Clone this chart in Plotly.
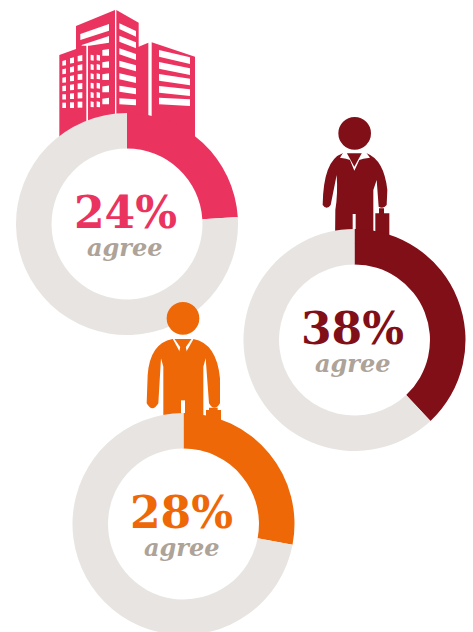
import plotly.graph_objects as go

W, H = 473, 640

labels = ["agree", "other"]
agree_values = [24, 38, 28]
rest_values = [76, 62, 72]
pct_labels = ["24%", "38%", "28%"]
sub_label = "agree"
colors = ["#EB3360", "#810F18", "#EE6808"]
GREY = "#E8E4E1"
SUB = "#ADA398"
cx = [127, 354.5, 183.5]
cy = [224, 340, 524]
R = 111


def pt(x, y):
    return f"{x / W:.5f} {1 - y / H:.5f}"


def z(ox, oy, pts):
    s = []
    for i, (x, y) in enumerate(pts):
        s.append(("M" if i == 0 else "L") + pt(ox + x / 3, oy + y / 3))
    return " ".join(s) + " Z"


def zcurve(ox, oy, cmds):
    out = []
    for c in cmds:
        op, nums = c[0], c[1:]
        coords = [pt(ox + nums[i] / 3, oy + nums[i + 1] / 3) for i in range(0, len(nums), 2)]
        out.append(op + " ".join(coords))
    return " ".join(out) + " Z"


shapes = []


def add(path, color):
    shapes.append(dict(type="path", xref="paper", yref="paper", path=path,
                       fillcolor=color, line=dict(width=0), layer="below"))


# --- building
BX, BY = 40, 0
b = colors[0]
add(z(BX, BY, [(58, 165), (108, 147), (108, 78), (225, 30), (225, 370), (144, 370), (144, 134), (139, 134),
               (139, 420), (58, 420)]), b)
add(z(BX, BY, [(229, 30), (296, 68), (296, 140), (325, 128), (325, 370), (229, 370)]), b)
add(z(BX, BY, [(335, 127), (465, 170), (465, 420), (335, 420)]), b)
w = "#FFFFFF"
add(z(BX, BY, [(121, 102), (207, 72), (207, 92), (121, 120)]), w)
add(z(BX, BY, [(125, 135), (207, 108), (207, 128), (148, 137), (125, 137)]), w)
for (y1, y2, h) in [(70, 93, 17), (107, 127, 18), (145, 162, 18), (182, 196, 18), (220, 231, 18), (257, 265, 18), (295, 298, 18)]:
    add(z(BX, BY, [(238, y1), (288, y2), (288, y2 + h), (238, y1 + h)]), w)
for (y1, y2, h) in [(150, 172, 20), (186, 205, 20), (222, 236, 20), (258, 268, 20), (293, 298, 20)]:
    add(z(BX, BY, [(357, y1), (450, y2), (450, y2 + h), (357, y1 + h)]), w)
for (x1, x2, base, step, hh) in [(67, 78, 180, 25.6, 16), (90, 102, 172, 27, 17), (113, 127, 165, 28, 18)]:
    for row in range(6):
        y = base + row * step
        t = 3 * (1 - row / 5)
        add(z(BX, BY, [(x1, y + t), (x2, y), (x2, y + hh), (x1, y + hh + t * 0.5)]), w)
for (x1, x2) in [(152, 161), (170, 180)]:
    for row in range(6):
        y = 164 + row * 28
        add(z(BX, BY, [(x1, y), (x2, y + 2), (x2, y + 18), (x1, y + 17)]), w)
for row in range(5):
    y = 147 + row * 36.5
    add(z(BX, BY, [(187, y + 3), (207, y), (207, y + 20), (187, y + 20)]), w)

# --- woman
WX, WY = 310, 110
c = colors[1]
shapes.append(dict(type="circle", xref="paper", yref="paper", layer="below", fillcolor=c, line=dict(width=0),
                   x0=(WX + 85 / 3) / W, x1=(WX + 183 / 3) / W,
                   y0=1 - (WY + 119 / 3) / H, y1=1 - (WY + 21 / 3) / H))
add(zcurve(WX, WY, [
    ("M", 98, 130), ("L", 170, 130),
    ("Q", 222, 150, 232, 240), ("L", 230, 285), ("Q", 220, 298, 206, 290),
    ("L", 200, 210), ("L", 190, 240), ("L", 190, 400), ("L", 75, 400), ("L", 76, 300),
    ("Q", 84, 250, 80, 195), ("L", 62, 285), ("Q", 50, 302, 38, 285),
    ("Q", 40, 150, 98, 130),
]), c)
add(z(WX, WY, [(128, 312), (137, 312), (137, 400), (128, 400)]), w)
add(z(WX, WY, [(90, 143), (100, 127), (110, 128), (133, 170), (156, 128), (168, 127), (180, 143), (160, 146),
               (148, 150), (133, 182), (120, 150), (108, 146)]), w)
add(z(WX, WY, [(196, 310), (207, 310), (207, 295), (222, 295), (222, 310), (238, 310), (238, 400), (196, 400)]), c)

# --- man
MX, MY = 135, 295
c = colors[2]
shapes.append(dict(type="circle", xref="paper", yref="paper", layer="above", fillcolor=c, line=dict(width=0),
                   x0=(MX + 95 / 3) / W, x1=(MX + 193 / 3) / W,
                   y0=1 - (MY + 119 / 3) / H, y1=1 - (MY + 21 / 3) / H))
add(zcurve(MX, MY, [
    ("M", 112, 132), ("L", 175, 132),
    ("Q", 245, 145, 255, 250), ("L", 255, 325), ("Q", 238, 352, 222, 325),
    ("L", 212, 190), ("L", 205, 215), ("L", 205, 400), ("L", 85, 400), ("L", 85, 215),
    ("L", 78, 190), ("L", 70, 325), ("Q", 52, 355, 35, 325), ("L", 38, 240),
    ("Q", 45, 145, 112, 132),
]), c)
add(z(MX, MY, [(138, 316), (150, 316), (150, 400), (138, 400)]), w)
add(z(MX, MY, [(113, 131), (118, 131), (138, 160), (135, 172)]), w)
add(z(MX, MY, [(170, 131), (176, 131), (153, 172), (150, 160)]), w)
add(z(MX, MY, [(132, 134), (156, 134), (150, 148), (156, 172), (144, 180), (132, 172), (138, 148)]), c)
add(z(MX, MY, [(213, 345), (222, 345), (222, 338), (248, 338), (248, 345), (258, 345), (258, 400), (213, 400)]), c)

fig = go.Figure()
annotations = []
for i in range(3):
    fig.add_trace(go.Pie(
        labels=labels, values=[agree_values[i], rest_values[i]], hole=0.68, sort=False,
        direction="clockwise", rotation=0, textinfo="none", hoverinfo="none", showlegend=False,
        marker=dict(colors=[colors[i], GREY], line=dict(width=0)),
        domain=dict(x=[(cx[i] - R) / W, (cx[i] + R) / W], y=[1 - (cy[i] + R) / H, 1 - (cy[i] - R) / H]),
    ))
    annotations.append(dict(text=pct_labels[i], xref="paper", yref="paper", x=cx[i] / W - 2 / W, y=1 - (cy[i] - 12) / H,
                            showarrow=False, xanchor="center", yanchor="middle",
                            font=dict(family="DejaVu Serif", size=44, color=colors[i], weight="bold")))
    annotations.append(dict(text=sub_label, xref="paper", yref="paper", x=cx[i] / W - 2 / W, y=1 - (cy[i] + 23) / H,
                            showarrow=False, xanchor="center", yanchor="middle",
                            font=dict(family="DejaVu Serif", size=24, color=SUB, weight="bold", style="italic")))

fig.update_layout(width=W, height=H, margin=dict(l=0, r=0, t=0, b=0), paper_bgcolor="#FFFFFF",
                  shapes=shapes, annotations=annotations)
fig.write_html("out.html", config={"displayModeBar": False},
               post_script="document.body.style.margin='0';document.body.style.overflow='hidden';document.documentElement.style.overflow='hidden';")
